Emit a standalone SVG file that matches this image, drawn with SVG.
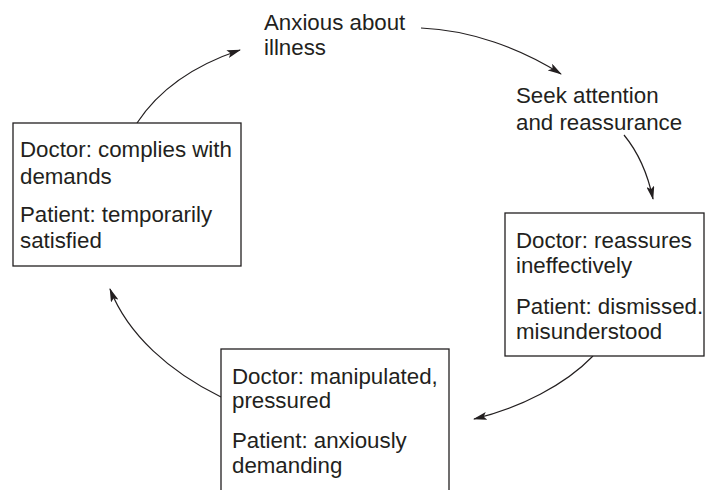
<svg xmlns="http://www.w3.org/2000/svg" width="707" height="490" viewBox="0 0 707 490">
<defs>
<style>
text{font-family:"Liberation Sans",Arial,Helvetica,sans-serif;font-size:22.3px;fill:#231f20}
.box{fill:#fff;stroke:#231f20;stroke-width:1.3}
.c{fill:none;stroke:#231f20;stroke-width:1.2;marker-end:url(#ah)}
</style>
<marker id="ah" viewBox="0 0 14 8" refX="13" refY="4" markerWidth="14" markerHeight="8" markerUnits="userSpaceOnUse" orient="auto">
<path d="M0,0 L14,4 L0,8 L3,4 Z" fill="#231f20"/>
</marker>
</defs>
<rect width="707" height="490" fill="#fff"/>
<g id="connectors">
<path class="c" d="M137,123 C160,88 195,65 240,50"/>
<path class="c" d="M421,28 C470,30 520,48 561,74"/>
<path class="c" d="M624,135 C638,152 648,175 653,199"/>
<path class="c" d="M593,356 C565,385 520,408 474,419"/>
<path class="c" d="M221,397 C170,372 128,335 110,289"/>
</g>
<g id="anxious">
<text x="264" y="30">Anxious about</text>
<text x="264" y="55">illness</text>
</g>
<g id="seek">
<text x="516" y="103">Seek attention</text>
<text x="516" y="130">and reassurance</text>
</g>
<g id="reassures">
<rect class="box" x="505" y="213" width="199" height="143"/>
<text x="516" y="248">Doctor: reassures</text>
<text x="516" y="273">ineffectively</text>
<text x="516" y="314">Patient: dismissed.</text>
<text x="516" y="339">misunderstood</text>
</g>
<g id="manipulated">
<rect class="box" x="221" y="349" width="228" height="150"/>
<text x="232" y="384">Doctor: manipulated,</text>
<text x="232" y="408">pressured</text>
<text x="232" y="448">Patient: anxiously</text>
<text x="232" y="473">demanding</text>
</g>
<g id="complies">
<rect class="box" x="13" y="123" width="228" height="143"/>
<text x="20" y="157">Doctor: complies with</text>
<text x="20" y="184">demands</text>
<text x="20" y="222">Patient: temporarily</text>
<text x="20" y="248">satisfied</text>
</g>
</svg>
